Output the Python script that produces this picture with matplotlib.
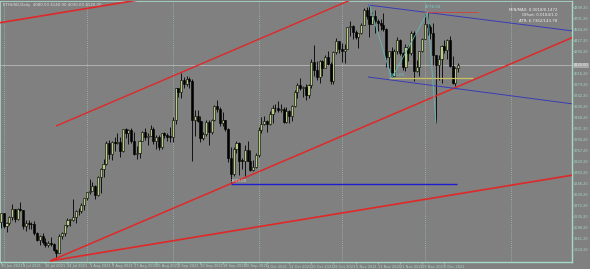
import numpy as np
import matplotlib.pyplot as plt
from matplotlib.transforms import blended_transform_factory

# ETHUSD daily, 30 Jun 2021 .. 12 Dec 2021
opens = [2160, 2275, 2113, 2150, 2226, 2322, 2198, 2324, 2316, 2117, 2150, 2139, 2140, 2032, 1940, 1995,
         1916, 1876, 1899, 1895, 1820, 1786, 1995, 2026, 2125, 2190, 2190, 2230, 2300, 2300, 2382, 2462,
         2536, 2558, 2610, 2505, 2725, 2828, 2890, 3155, 3015, 3160, 3145, 3165, 3050, 3320, 3270, 3310,
         3170, 3010, 3030, 3180, 3290, 3230, 3240, 3320, 3175, 3225, 3100, 3270, 3245, 3230, 3225, 3435,
         3835, 3790, 3940, 3890, 3950, 3925, 3430, 3490, 3425, 3210, 3265, 3410, 3285, 3430, 3615, 3570,
         3400, 3435, 3330, 2960, 2760, 3080, 3155, 2930, 2925, 3060, 2930, 2810, 2850, 3000, 3310, 3390,
         3420, 3385, 3515, 3580, 3590, 3560, 3575, 3415, 3545, 3490, 3605, 3790, 3870, 3830, 3850, 3745,
         3875, 4155, 4060, 3970, 4170, 4085, 4220, 4130, 3925, 4285, 4415, 4325, 4290, 4325, 4590, 4605,
         4535, 4475, 4515, 4620, 4810, 4735, 4635, 4735, 4670, 4650, 4625, 4570, 4215, 4290, 3990, 4300,
         4435, 4265, 4090, 4340, 4270, 4525, 4045, 4100, 4290, 4445, 4630, 4590, 4520, 4240, 4115, 4195,
         4360, 4310, 4430, 4110, 3900, 4080]
highs = [2282, 2280, 2160, 2240, 2390, 2325, 2345, 2410, 2320, 2185, 2190, 2160, 2175, 2045, 2010, 2030,
         1965, 1925, 1985, 1910, 1835, 2020, 2045, 2130, 2215, 2200, 2450, 2320, 2345, 2400, 2465, 2545,
         2700, 2665, 2630, 2740, 2840, 2950, 3180, 3185, 3180, 3230, 3275, 3230, 3330, 3335, 3320, 3335,
         3290, 3110, 3190, 3300, 3335, 3270, 3375, 3355, 3250, 3250, 3280, 3285, 3280, 3350, 3470, 3840,
         3840, 4025, 3970, 3980, 3970, 3950, 3555, 3560, 3490, 3285, 3440, 3440, 3450, 3625, 3680, 3595,
         3535, 3440, 3340, 3100, 3100, 3175, 3160, 2965, 3120, 3170, 3065, 2940, 3030, 3345, 3470, 3490,
         3440, 3550, 3620, 3640, 3670, 3630, 3600, 3600, 3560, 3620, 3815, 3900, 3965, 3860, 3890, 3890,
         4190, 4375, 4170, 4180, 4180, 4240, 4300, 4160, 4300, 4460, 4420, 4390, 4380, 4600, 4665, 4620,
         4560, 4525, 4640, 4825, 4840, 4868, 4780, 4810, 4700, 4690, 4770, 4580, 4300, 4340, 4320, 4475,
         4440, 4280, 4380, 4370, 4550, 4550, 4180, 4300, 4460, 4750, 4778, 4620, 4640, 4250, 4240, 4370,
         4430, 4440, 4480, 4230, 4100, 4140]
lows = [2090, 2090, 2045, 2125, 2190, 2160, 2195, 2300, 2075, 2050, 2085, 2080, 2000, 1930, 1880, 1895,
        1855, 1855, 1870, 1800, 1718, 1775, 1950, 1990, 2110, 2115, 2180, 2150, 2250, 2275, 2320, 2445,
        2520, 2555, 2450, 2490, 2530, 2730, 2880, 2950, 2935, 3055, 3140, 2980, 3040, 3210, 3140, 3155,
        2995, 2950, 2960, 3170, 3185, 3120, 3235, 3140, 3080, 3060, 3070, 3215, 3170, 3160, 3165, 3390,
        3720, 3710, 3830, 3860, 3840, 2920, 3240, 3410, 3165, 3185, 3240, 3120, 3260, 3420, 3530, 3360,
        3360, 3300, 2915, 2650, 2740, 3025, 2755, 2820, 2740, 2930, 2800, 2795, 2840, 2970, 3280, 3370,
        3285, 3380, 3400, 3530, 3540, 3530, 3400, 3400, 3400, 3420, 3600, 3710, 3810, 3720, 3690, 3710,
        3840, 3980, 3935, 3900, 3990, 4080, 4120, 3880, 3890, 4260, 4275, 4160, 4150, 4315, 4480, 4440,
        4440, 4330, 4510, 4615, 4700, 4470, 4630, 4520, 4545, 4560, 4550, 4100, 4080, 3955, 3985, 4260,
        4250, 4060, 4050, 4170, 4250, 3920, 4035, 3985, 4280, 4440, 4500, 4440, 4120, 3400, 3930, 3900,
        4270, 4200, 4090, 3880, 3860, 4030]
closes = [2275, 2113, 2150, 2226, 2322, 2198, 2324, 2316, 2117, 2150, 2139, 2140, 2032, 1940, 1995, 1916,
          1876, 1899, 1895, 1820, 1786, 1995, 2026, 2125, 2190, 2190, 2230, 2300, 2300, 2382, 2462, 2536,
          2558, 2610, 2505, 2725, 2828, 2890, 3155, 3015, 3160, 3145, 3165, 3050, 3320, 3270, 3310, 3170,
          3010, 3030, 3180, 3290, 3230, 3240, 3320, 3175, 3225, 3100, 3270, 3245, 3230, 3225, 3435, 3835,
          3790, 3940, 3890, 3950, 3925, 3430, 3490, 3425, 3210, 3265, 3410, 3285, 3430, 3615, 3570, 3400,
          3435, 3330, 2960, 2760, 3080, 3155, 2930, 2925, 3060, 2930, 2810, 2850, 3000, 3310, 3390, 3420,
          3385, 3515, 3580, 3590, 3560, 3575, 3415, 3545, 3490, 3605, 3790, 3870, 3830, 3850, 3745, 3875,
          4155, 4060, 3970, 4170, 4085, 4220, 4130, 3925, 4285, 4415, 4325, 4290, 4325, 4590, 4605, 4535,
          4475, 4515, 4620, 4810, 4735, 4635, 4735, 4670, 4650, 4625, 4570, 4215, 4290, 3990, 4300, 4435,
          4265, 4090, 4340, 4270, 4525, 4045, 4100, 4290, 4445, 4630, 4590, 4520, 4240, 4115, 4195, 4360,
          4310, 4430, 4110, 3900, 4080, 4120]

date_labels = ["30 Jun 2021", "8 Jul 2021", "16 Jul 2021", "24 Jul 2021", "1 Aug 2021", "9 Aug 2021",
               "17 Aug 2021", "25 Aug 2021", "2 Sep 2021", "10 Sep 2021", "18 Sep 2021", "26 Sep 2021",
               "4 Oct 2021", "12 Oct 2021", "20 Oct 2021", "28 Oct 2021", "5 Nov 2021", "13 Nov 2021",
               "21 Nov 2021", "29 Nov 2021", "7 Dec 2021"]
date_bars = [0, 8, 16, 24, 32, 40, 48, 56, 64, 72, 80, 88, 96, 104, 112, 120, 128, 136, 144, 152, 160]
# the 4153.20 slot is covered by the bid box
price_ticks = [4838.2, 4701.2, 4564.2, 4427.2, 4290.2, 4016.2, 3879.2, 3742.2, 3605.2, 3468.2,
               3331.2, 3194.2, 3057.2, 2920.2, 2783.2, 2646.2, 2509.2, 2372.2, 2235.2, 2098.2, 1961.2, 1824.2]
grid_bars = [1, 31, 62, 93, 123, 153, 184]

# drawn objects, (bar, price) anchors
trend_main = [(17.7, 1681), (206.7, 4470)]
trend_main_par = [(19.9, 3362), (130, 4987)]
trend_low = [(17.7, 1681), (206.7, 2752)]
trend_low_par = [(-1, 4644), (50, 4933)]
chan_up = [(132.5, 4868), (206.7, 4544)]
chan_dn = [(132.5, 3972), (206.7, 3635)]
low_level = [(82.9, 2639), (164.7, 2639)]
res_level = [(152.8, 4775), (172.3, 4775)]
sup_level = [(140, 3953), (170.5, 3953)]
zigzag_bars = [133, 141, 154, 157]

BG = '#808080'
AXC = '#a6d8c6'

fig = plt.figure(figsize=(5.9, 2.69), dpi=100, facecolor=BG)
ax = fig.add_axes([0, 7 / 269, 572 / 590, 261 / 269], facecolor=BG)

n = len(closes)
x = np.arange(n)
o = np.array(opens); h = np.array(highs); l = np.array(lows); c = np.array(closes)
bull = c >= o

# grid + bid line
for gb in grid_bars:
    ax.axvline(gb, color=AXC, lw=0.5, ls=(0, (1, 2)), zorder=0)
ax.axhline(closes[-1], color='#b8b8b8', lw=0.6, zorder=0)

# candles
ax.vlines(x, l, h, color='black', lw=0.6, zorder=2)
body_lo = np.minimum(o, c)
body_h = np.maximum(np.abs(c - o), 8)
ax.bar(x[bull], body_h[bull], bottom=body_lo[bull], width=0.75, color='#b7cc86',
       edgecolor='black', linewidth=0.4, zorder=3)
ax.bar(x[~bull], body_h[~bull], bottom=body_lo[~bull], width=0.75, color='black',
       edgecolor='black', linewidth=0.4, zorder=3)

def seg(pts, **kw):
    ax.plot([pts[0][0], pts[1][0]], [pts[0][1], pts[1][1]], solid_capstyle='butt', **kw)

red = '#e02828'
seg(trend_main, color=red, lw=1.1, zorder=4)
seg(trend_main_par, color=red, lw=1.0, zorder=4)
seg(trend_low, color=red, lw=1.2, zorder=4)
seg(trend_low_par, color=red, lw=1.2, zorder=4)
seg(chan_up, color='#3a3ab8', lw=0.7, zorder=4)
seg(chan_dn, color='#3a3ab8', lw=0.7, zorder=4)
seg(low_level, color='#1c1cd0', lw=1.0, zorder=4)
seg(res_level, color='#d04040', lw=0.6, zorder=4)
seg(sup_level, color='#c8c060', lw=0.9, zorder=4)

# zigzag
zz_y = [highs[zigzag_bars[0]], lows[zigzag_bars[1]], highs[zigzag_bars[2]], lows[zigzag_bars[3]]]
ax.plot(zigzag_bars, zz_y, color='#60b8b8', lw=0.6, zorder=5)

lab = dict(fontsize=2.8, zorder=6)
ax.text(low_level[0][0], low_level[0][1] + 15, f"{low_level[0][1]:.2f}", color='#d8d8d8',
        ha='left', va='bottom', **lab)
ax.text(zigzag_bars[1] - 1, lows[zigzag_bars[1]] + 20, f"{lows[zigzag_bars[1]]:.2f}", color='#70d0d0',
        ha='left', va='bottom', **lab)
ax.text(zigzag_bars[2] - 1, highs[zigzag_bars[2]] + 40, f"{highs[zigzag_bars[2]]:.2f}", color='#70d0d0',
        ha='left', va='bottom', **lab)

ax.text(0.005, 0.993, "ETHUSD,Daily  4080.00 4140.00 4030.00 4120.00", transform=ax.transAxes,
        color='#e0e0e0', fontsize=2.8, ha='left', va='top')
ax.text(0.975, 0.975, "MIN/MAX: 0.0018/0.1472\nOffset: 0.0184/1.0\nATR: 6.7362/143.78",
        transform=ax.transAxes, color='#f0f0f0', fontsize=2.8, ha='right', va='top',
        linespacing=1.6)

ax.set_xlim(-0.36, 206.1)
ax.set_ylim(1668, 4918)

ax.yaxis.tick_right()
ax.set_yticks(price_ticks)
ax.set_yticklabels([f"{p:.2f}" for p in price_ticks])
ax.tick_params(axis='y', colors=AXC, labelsize=2.5, length=1, width=0.5, pad=0.5, labelcolor=AXC)
ax.set_xticks(date_bars)
ax.set_xticklabels(date_labels, ha='left')
ax.tick_params(axis='x', colors=AXC, labelsize=2.6, length=1.5, width=0.5, pad=0.3, labelcolor=AXC)

# bid label
tr = blended_transform_factory(ax.transAxes, ax.transData)
ax.text(1.003, closes[-1], f"{closes[-1]:.2f}", transform=tr, fontsize=2.5, color='#f4f4f4',
        ha='left', va='center', bbox=dict(boxstyle='square,pad=0.15', fc='#a8a8a8', ec='none'))

for s in ['left', 'top']:
    ax.spines[s].set_color(AXC)
    ax.spines[s].set_linewidth(0.6)
for s in ['right', 'bottom']:
    ax.spines[s].set_color(AXC)
    ax.spines[s].set_linewidth(1.0)

fig.savefig('out.png', dpi=100, facecolor=BG)
